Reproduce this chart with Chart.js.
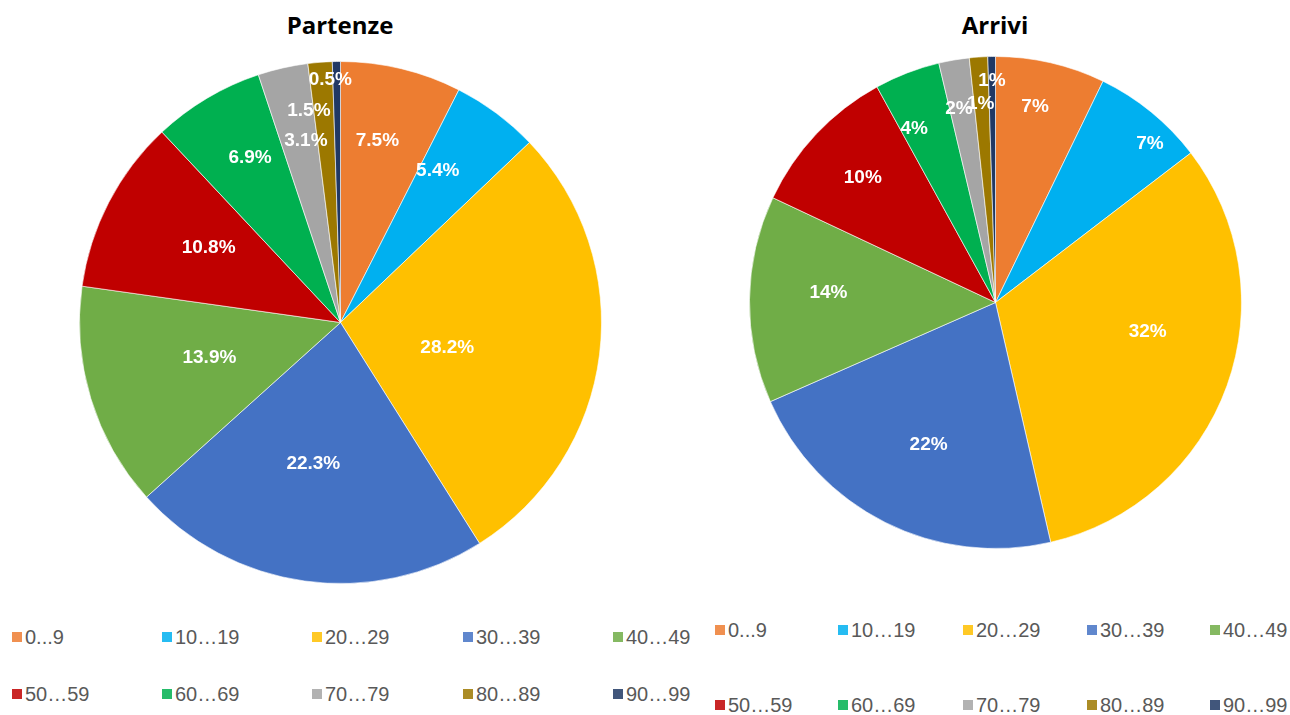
<!DOCTYPE html>
<html>
<head>
<meta charset="utf-8">
<script src="https://cdn.jsdelivr.net/npm/chart.js@4.4.0/dist/chart.umd.min.js"></script>
<style>
  body { margin: 0; background: #fff; width: 1290px; height: 715px; position: relative; overflow: hidden; }
  .title { position: absolute; top: 8px; font: bold 24px "Open Sans", sans-serif; color: #000; text-align: center; width: 300px; }
  .pie { position: absolute; }
  .leg { position: absolute; font: 20px "Liberation Sans", Arial, sans-serif; color: #595959; line-height: 24px; white-space: nowrap; }
  .leg i { display: inline-block; width: 10px; height: 10px; margin-right: 3px; vertical-align: 2px; opacity: 0.85; }
</style>
</head>
<body>
<div class="title" style="left:190px">Partenze</div>
<div class="title" style="left:845px">Arrivi</div>
<canvas id="partenze" class="pie" width="523" height="523" style="left:79px;top:61px"></canvas>
<canvas id="arrivi" class="pie" width="493" height="493" style="left:749px;top:56px"></canvas>
<div id="legendLeft"></div>
<div id="legendRight"></div>
<script>
const ageGroups = ['0...9', '10\u202619', '20\u202629', '30\u202639', '40\u202649',
                   '50\u202659', '60\u202669', '70\u202679', '80\u202689', '90\u202699'];
const partenze = [7.5, 5.4, 28.2, 22.3, 13.9, 10.8, 6.9, 3.1, 1.5, 0.5];
const arrivi = [7.2, 7.4, 31.8, 22.0, 13.6, 10.0, 4.3, 2.0, 1.2, 0.5];
const sliceColors = ['#ED7D31', '#00B0F0', '#FFC000', '#4472C4', '#70AD47',
                     '#C00000', '#00B050', '#A5A5A5', '#9C7800', '#203864'];

// where each percentage sits: fraction of radius + nudge in degrees from the slice middle
const leftLabelPos = [[0.71, -2], [0.69, -4], [0.42, 6], [0.55, 3], [0.52, 2],
                      [0.58, 2], [0.72, 2], [0.71, 2], [0.82, -4], [0.93, -1.5]];
const rightLabelPos = [[0.81, -1.5], [0.9, 5], [0.63, -9], [0.64, -1.5], [0.68, 2.5],
                       [0.74, 0], [0.78, -4], [0.8, -1], [0.81, -0.3], [0.9, 0]];

const sliceLabels = {
  id: 'sliceLabels',
  afterDatasetsDraw(chart, args, opts) {
    const c = chart.ctx;
    const data = chart.data.datasets[0].data;
    c.save();
    c.font = 'bold 19px "Liberation Sans", Arial, sans-serif';
    c.fillStyle = '#ffffff';
    c.textAlign = 'center';
    c.textBaseline = 'middle';
    chart.getDatasetMeta(0).data.forEach((arc, i) => {
      const p = arc.getProps(['x', 'y', 'startAngle', 'endAngle', 'outerRadius'], true);
      const [frac, shift] = opts.pos[i];
      const a = (p.startAngle + p.endAngle) / 2 + shift * Math.PI / 180;
      const r = p.outerRadius * frac;
      c.fillText(opts.format(data[i]), p.x + Math.cos(a) * r, p.y + Math.sin(a) * r);
    });
    c.restore();
  }
};

function makePie(id, values, pos, format) {
  return new Chart(document.getElementById(id), {
    type: 'pie',
    data: {
      labels: ageGroups,
      datasets: [{
        data: values,
        backgroundColor: sliceColors,
        borderColor: 'rgba(255,255,255,0.6)',
        borderWidth: 1,
        hoverOffset: 0
      }]
    },
    options: {
      responsive: false,
      animation: false,
      layout: { padding: 0 },
      plugins: {
        legend: { display: false },
        tooltip: { enabled: false },
        sliceLabels: { pos: pos, format: format }
      }
    },
    plugins: [sliceLabels]
  });
}

makePie('partenze', partenze, leftLabelPos, v => v.toFixed(1) + '%');
makePie('arrivi', arrivi, rightLabelPos, v => Math.round(v) + '%');

function buildLegend(el, xs, ys) {
  const box = document.getElementById(el);
  ageGroups.forEach((g, i) => {
    const d = document.createElement('div');
    d.className = 'leg';
    d.style.left = xs[i % 5] + 'px';
    d.style.top = (ys[Math.floor(i / 5)] - 12) + 'px';
    d.innerHTML = `<i style="background:${sliceColors[i]}"></i>${g}`;
    box.appendChild(d);
  });
}

buildLegend('legendLeft', [12, 162, 312, 463, 613], [637, 694]);
buildLegend('legendRight', [715, 838, 963, 1087, 1210], [630, 705]);
</script>
</body>
</html>
